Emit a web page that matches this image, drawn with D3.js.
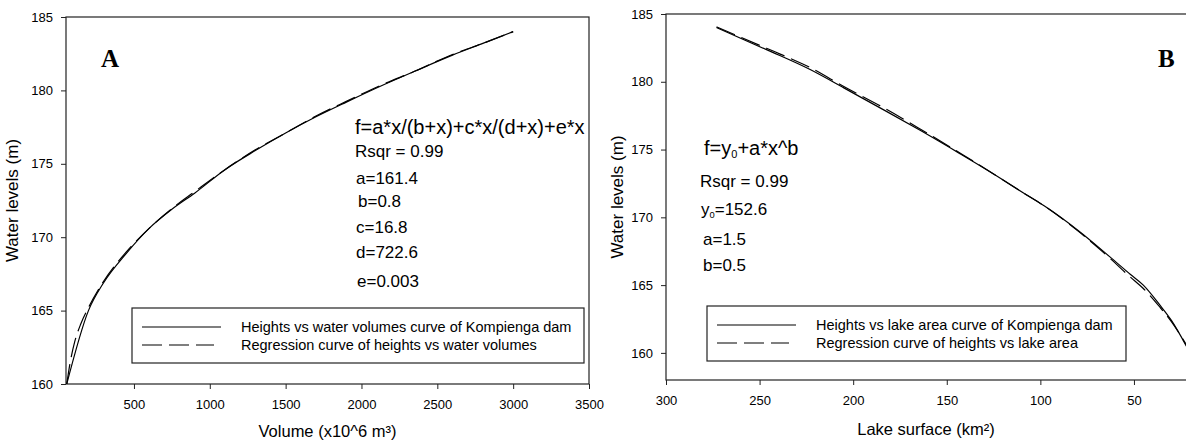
<!DOCTYPE html>
<html>
<head>
<meta charset="utf-8">
<script src="https://cdn.jsdelivr.net/npm/d3@7/dist/d3.min.js"></script>
<style>
    body { margin: 0; background: #fff; }
    svg text { font-family: "Liberation Sans", Arial, sans-serif; fill: #000; }
    .tick line { stroke: #222; }
    .tick text { font-size: 13px; }
</style>
</head>
<body>
<svg id="chart" width="1186" height="444"></svg>
<script>
// Panel A - heights vs water volumes (x10^6 m3)
const volumeObs = [57, 200, 300, 450, 600, 750, 900, 1100, 1300, 1500, 1700, 1900, 2150, 2350, 2600, 2800, 3000];
const heightVolObs = [160, 165, 166.9, 168.9, 170.6, 171.9, 173.0, 174.6, 175.9, 177.1, 178.2, 179.2, 180.4, 181.3, 182.4, 183.2, 184];
const volumeReg = [57, 80, 110, 150, 200, 300, 450, 600, 750, 900, 1100, 1300, 1500, 1700, 1900, 2150, 2350, 2600, 2800, 3000];
const heightVolReg = [160, 161.5, 162.9, 164.1, 165.2, 167.0, 169.0, 170.6, 171.95, 173.1, 174.6, 175.95, 177.1, 178.25, 179.25, 180.45, 181.3, 182.45, 183.2, 184];
const volumeTicks = [500, 1000, 1500, 2000, 2500, 3000, 3500];

// Panel B - heights vs lake area (km2)
const areaObs = [273, 246, 223, 205, 182, 164, 143, 125, 109, 98, 80, 63, 52, 45, 36, 30, 22];
const heightAreaObs = [184, 182.35, 180.9, 179.55, 177.8, 176.4, 174.7, 173.2, 171.8, 170.85, 169.05, 167.1, 165.8, 165.0, 163.5, 162.4, 160.5];
const areaReg = [273, 246, 223, 205, 182, 164, 143, 125, 109, 98, 80, 63, 52, 45, 36, 30, 22];
const heightAreaReg = [184.05, 182.45, 181.05, 179.65, 177.95, 176.5, 174.75, 173.2, 171.8, 170.85, 169.0, 167.0, 165.6, 164.75, 163.35, 162.3, 160.6];
const areaTicks = [300, 250, 200, 150, 100, 50];

const levelTicks = [160, 165, 170, 175, 180, 185];

const svg = d3.select('#chart');

const panels = [
    {
        id: 'a',
        left: 66, right: 589, top: 17, bottom: 384,
        xDomain: [52, 3500], yDomain: [160, 185],
        xTicks: volumeTicks,
        obs: volumeObs.map((v, i) => [v, heightVolObs[i]]),
        reg: volumeReg.map((v, i) => [v, heightVolReg[i]]),
        xTitle: 'Volume (x10^6 m³)', xTitleY: 437,
        yTitleX: 18,
        letter: 'A', letterX: 101, letterY: 67,
        legend: { x: 132, y: 308, w: 452, h: 55,
            labels: ['Heights vs water volumes curve of Kompienga dam',
                     'Regression curve of heights vs water volumes'] },
        notes: [
            { x: 355, y: 134, size: 20, parts: [['f=a*x/(b+x)+c*x/(d+x)+e*x']] },
            { x: 355, y: 157, size: 17, parts: [['Rsqr = 0.99']] },
            { x: 356, y: 184, size: 17, parts: [['a=161.4']] },
            { x: 358, y: 207, size: 17, parts: [['b=0.8']] },
            { x: 356, y: 233, size: 17, parts: [['c=16.8']] },
            { x: 356, y: 258, size: 17, parts: [['d=722.6']] },
            { x: 357, y: 287, size: 17, parts: [['e=0.003']] }
        ]
    },
    {
        id: 'b',
        left: 666, right: 1186, top: 14, bottom: 380,
        xDomain: [300, 22.2], yDomain: [158, 185],
        xTicks: areaTicks,
        obs: areaObs.map((v, i) => [v, heightAreaObs[i]]),
        reg: areaReg.map((v, i) => [v, heightAreaReg[i]]),
        xTitle: 'Lake surface (km²)', xTitleY: 435,
        yTitleX: 623,
        letter: 'B', letterX: 1158, letterY: 67,
        legend: { x: 707, y: 306, w: 419, h: 55,
            labels: ['Heights vs lake area curve of Kompienga dam',
                     'Regression curve of heights vs lake area'] },
        notes: [
            { x: 704, y: 155, size: 20, parts: [['f=y'], ['0', 'sub'], ['+a*x^b']] },
            { x: 700, y: 187, size: 17, parts: [['Rsqr = 0.99']] },
            { x: 701, y: 215, size: 17, parts: [['y'], ['0', 'sub'], ['=152.6']] },
            { x: 703, y: 245, size: 17, parts: [['a=1.5']] },
            { x: 703, y: 271, size: 17, parts: [['b=0.5']] }
        ]
    }
];

panels.forEach(p => {
    const x = d3.scaleLinear().domain(p.xDomain).range([p.left, p.right]);
    const y = d3.scaleLinear().domain(p.yDomain).range([p.bottom, p.top]);
    const g = svg.append('g');

    // clip for the curves
    g.append('clipPath').attr('id', 'clip-' + p.id)
        .append('rect')
        .attr('x', p.left).attr('y', p.top)
        .attr('width', p.right - p.left).attr('height', p.bottom - p.top);

    // frame
    g.append('rect')
        .attr('x', p.left).attr('y', p.top)
        .attr('width', p.right - p.left + (p.id === 'b' ? 5 : 0))
        .attr('height', p.bottom - p.top)
        .attr('fill', 'none').attr('stroke', '#222').attr('stroke-width', 1.2);

    // axes
    g.append('g')
        .attr('transform', `translate(0,${p.bottom})`)
        .call(d3.axisBottom(x).tickValues(p.xTicks).tickSize(5).tickPadding(11).tickFormat(d3.format('d')))
        .call(s => s.select('.domain').remove())
        .call(s => s.selectAll('text').attr('font-family', null));

    g.append('g')
        .attr('transform', `translate(${p.left},0)`)
        .call(d3.axisLeft(y).tickValues(levelTicks).tickSize(5).tickPadding(8).tickFormat(d3.format('d')))
        .call(s => s.select('.domain').remove())
        .call(s => s.selectAll('text').attr('font-family', null));

    // axis titles
    g.append('text')
        .attr('x', (p.left + p.right) / 2).attr('y', p.xTitleY)
        .attr('text-anchor', 'middle').attr('font-size', 16.5)
        .text(p.xTitle);

    g.append('text')
        .attr('transform', `translate(${p.yTitleX},${(p.top + p.bottom) / 2}) rotate(-90)`)
        .attr('text-anchor', 'middle').attr('font-size', 17)
        .text('Water levels (m)');

    // curves
    const line = d3.line().x(d => x(d[0])).y(d => y(d[1])).curve(d3.curveMonotoneX);
    const curves = g.append('g').attr('clip-path', `url(#clip-${p.id})`);
    curves.append('path')
        .datum(p.obs)
        .attr('d', line)
        .attr('fill', 'none').attr('stroke', '#000').attr('stroke-width', 1.2);
    curves.append('path')
        .datum(p.reg)
        .attr('d', line)
        .attr('fill', 'none').attr('stroke', '#000').attr('stroke-width', 1.2)
        .attr('stroke-dasharray', '20,7');

    // panel letter
    g.append('text')
        .attr('x', p.letterX).attr('y', p.letterY)
        .style('font-family', '"Liberation Serif", "Times New Roman", serif')
        .attr('font-weight', 'bold').attr('font-size', 25)
        .text(p.letter);

    // regression notes
    p.notes.forEach(n => {
        const t = g.append('text').attr('x', n.x).attr('y', n.y).attr('font-size', n.size);
        n.parts.forEach(part => {
            const ts = t.append('tspan').text(part[0]);
            if (part[1] === 'sub') {
                ts.attr('font-size', n.size * 0.55).attr('dy', 3);
            } else if (t.selectAll('tspan').size() > 1) {
                ts.attr('dy', -3);
            }
        });
    });

    // legend
    const L = p.legend;
    const lg = g.append('g');
    lg.append('rect')
        .attr('x', L.x).attr('y', L.y).attr('width', L.w).attr('height', L.h)
        .attr('fill', '#fff').attr('stroke', '#222').attr('stroke-width', 1.2);
    [0, 1].forEach(i => {
        const ly = L.y + 19 + i * 18;
        lg.append('line')
            .attr('x1', L.x + 10).attr('x2', L.x + (i === 0 ? 89 : 82))
            .attr('y1', ly).attr('y2', ly)
            .attr('stroke', '#000').attr('stroke-width', 1.2)
            .attr('stroke-dasharray', i === 1 ? '20,7' : null);
        lg.append('text')
            .attr('x', L.x + 109).attr('y', ly + 5)
            .attr('font-size', 14.5)
            .text(L.labels[i]);
    });
});
</script>
</body>
</html>
